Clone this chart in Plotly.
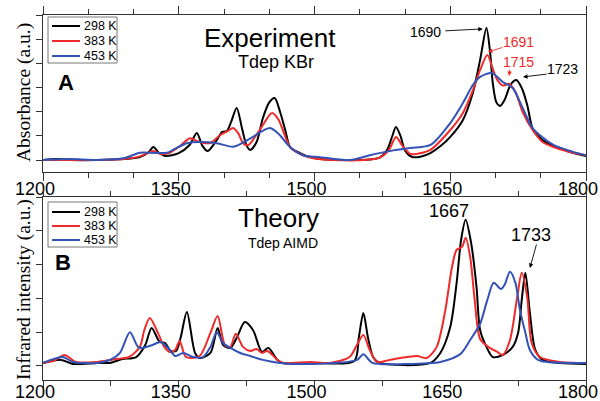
import plotly.graph_objects as go

# ---------------- data ----------------
temps = ["298 K", "383 K", "453 K"]
colors = ["#000000", "#f02a2a", "#3352b5"]

# Experiment (KBr pellet), absorbance in a.u.
exp_wn_298 = [1200, 1215, 1230, 1260, 1290, 1307, 1316, 1322, 1328, 1335, 1350, 1362, 1370, 1376, 1382,
              1392, 1398, 1403, 1408, 1414, 1420, 1425, 1429, 1436, 1443, 1450, 1456, 1462, 1468, 1473,
              1484, 1495, 1506, 1520, 1540, 1560, 1572, 1580, 1586, 1590, 1595, 1600, 1608, 1618, 1628,
              1640, 1650, 1664, 1675, 1683, 1690, 1694, 1697, 1701, 1705, 1710, 1715, 1719, 1723, 1729,
              1735, 1741, 1747, 1757, 1771, 1785, 1800]
exp_abs_298 = [0.0, 0.004, 0.0, 0.0, 0.004, 0.012, 0.03, 0.054, 0.03, 0.017, 0.029, 0.0625, 0.1125, 0.06, 0.0375,
               0.083, 0.117, 0.12, 0.16, 0.217, 0.13, 0.06, 0.042, 0.075, 0.175, 0.24, 0.258, 0.2, 0.12, 0.054,
               0.029, 0.012, 0.004, 0.0, 0.0, 0.002, 0.01, 0.04, 0.1, 0.1375, 0.1, 0.04, 0.0125, 0.015, 0.029,
               0.06, 0.096, 0.167, 0.28, 0.417, 0.55, 0.45, 0.32, 0.24, 0.225, 0.25, 0.3, 0.325, 0.333, 0.3,
               0.23, 0.13, 0.1, 0.07, 0.05, 0.03, 0.017]

exp_wn_383 = [1200, 1230, 1260, 1290, 1307, 1316, 1322, 1330, 1340, 1352, 1362, 1373, 1384, 1396, 1404,
              1410, 1416, 1421, 1427, 1435, 1443, 1453, 1460, 1465, 1473, 1487, 1500, 1520, 1555, 1572,
              1582, 1590, 1597, 1606, 1615, 1628, 1650, 1664, 1675, 1683, 1691, 1697, 1702, 1708, 1715,
              1722, 1730, 1741, 1752, 1764, 1780, 1800]
exp_abs_383 = [0.0, 0.0, 0.0, 0.004, 0.015, 0.03, 0.037, 0.025, 0.03, 0.06, 0.09, 0.075, 0.07, 0.104, 0.12,
               0.133, 0.11, 0.07, 0.0625, 0.1, 0.146, 0.196, 0.17, 0.125, 0.054, 0.02, 0.006, 0.0, 0.0, 0.01,
               0.04, 0.096, 0.06, 0.025, 0.027, 0.042, 0.125, 0.196, 0.29, 0.375, 0.4375, 0.38, 0.333, 0.31, 0.317,
               0.283, 0.2, 0.125, 0.075, 0.054, 0.035, 0.02]

exp_wn_453 = [1200, 1230, 1260, 1290, 1307, 1320, 1337, 1345, 1359, 1373, 1392, 1410, 1420, 1432, 1442,
              1451, 1460, 1473, 1487, 1506, 1539, 1561, 1583, 1606, 1628, 1650, 1664, 1675, 1683, 1696,
              1708, 1719, 1730, 1741, 1764, 1785, 1800]
exp_abs_453 = [0.0, 0.004, 0.0, 0.008, 0.03, 0.03, 0.03, 0.045, 0.07, 0.075, 0.07, 0.055, 0.07, 0.096, 0.12,
               0.133, 0.11, 0.054, 0.02, 0.012, 0.0, 0.02, 0.037, 0.05, 0.0625, 0.154, 0.2375, 0.3125, 0.346, 0.3625,
               0.325, 0.3, 0.217, 0.133, 0.0625, 0.035, 0.02]

# Theory (temperature-dependent AIMD), infrared intensity in a.u.
th_wn_298 = [1200, 1220, 1233, 1260, 1274, 1288, 1303, 1313, 1320, 1329, 1335, 1341, 1347, 1352, 1359,
             1368, 1373, 1385, 1393, 1399, 1407, 1414, 1423, 1432, 1442, 1449, 1459, 1465, 1500, 1544,
             1549, 1554, 1559, 1565, 1572, 1628, 1639, 1650, 1657, 1662, 1667, 1673, 1679, 1683, 1690,
             1697, 1708, 1719, 1725, 1729, 1733, 1738, 1744, 1752, 1771, 1800]
th_int_298 = [0.018, 0.036, 0.012, 0.018, 0.018, 0.041, 0.053, 0.124, 0.225, 0.142, 0.136, 0.089, 0.089, 0.166, 0.32,
              0.077, 0.047, 0.077, 0.225, 0.124, 0.107, 0.166, 0.26, 0.213, 0.083, 0.107, 0.036, 0.018, 0.018, 0.03,
              0.17, 0.314, 0.17, 0.05, 0.018, 0.018, 0.077, 0.231, 0.49, 0.747, 0.865, 0.73, 0.468, 0.213, 0.113,
              0.053, 0.065, 0.113, 0.196, 0.391, 0.551, 0.314, 0.095, 0.036, 0.018, 0.012]

th_wn_383 = [1200, 1212, 1224, 1236, 1260, 1281, 1295, 1307, 1312, 1318, 1327, 1334, 1340, 1346, 1351,
             1358, 1373, 1385, 1393, 1401, 1407, 1413, 1421, 1429, 1436, 1442, 1448, 1459, 1465, 1495,
             1517, 1539, 1548, 1554, 1561, 1569, 1583, 1613, 1624, 1635, 1644, 1652, 1657, 1663, 1667,
             1672, 1677, 1683, 1692, 1702, 1708, 1716, 1724, 1729, 1735, 1740, 1749, 1771, 1800]
th_int_383 = [0.018, 0.03, 0.065, 0.024, 0.024, 0.041, 0.053, 0.113, 0.213, 0.284, 0.196, 0.113, 0.083, 0.095, 0.148,
              0.053, 0.059, 0.196, 0.296, 0.124, 0.113, 0.19, 0.113, 0.089, 0.1, 0.077, 0.089, 0.036, 0.018, 0.024,
              0.018, 0.055, 0.136, 0.183, 0.095, 0.024, 0.036, 0.059, 0.047, 0.113, 0.314, 0.587, 0.687, 0.705, 0.759,
              0.646, 0.391, 0.16, 0.113, 0.083, 0.065, 0.154, 0.409, 0.551, 0.409, 0.136, 0.053, 0.024, 0.018]

th_wn_453 = [1200, 1222, 1233, 1260, 1274, 1285, 1296, 1305, 1310, 1321, 1330, 1340, 1346, 1355, 1366,
             1377, 1385, 1392, 1399, 1407, 1418, 1429, 1443, 1462, 1500, 1547, 1554, 1564, 1600, 1639,
             1661, 1672, 1683, 1691, 1698, 1706, 1710, 1716, 1722, 1727, 1733, 1738, 1747, 1757, 1800]
th_int_453 = [0.018, 0.053, 0.024, 0.018, 0.036, 0.077, 0.2, 0.113, 0.107, 0.124, 0.142, 0.095, 0.059, 0.077, 0.053,
              0.053, 0.113, 0.2, 0.136, 0.107, 0.077, 0.059, 0.036, 0.018, 0.012, 0.036, 0.07, 0.018, 0.012, 0.024,
              0.07, 0.154, 0.25, 0.391, 0.492, 0.456, 0.48, 0.557, 0.492, 0.332, 0.196, 0.095, 0.036, 0.024, 0.018]

x_ticks = [1200, 1350, 1500, 1650, 1800]

# ---------------- figure ----------------
SANS = "Liberation Sans, Arial, sans-serif"
SERIF = "Times New Roman, Liberation Serif, DejaVu Serif, serif"
L, R, T, B = 43, 14, 15, 21          # margins in px
W, H = 600, 401
PW, PH = W - L - R, H - T - B


def px(x):
    return (x - L) / PW


def py(y):
    return (H - B - y) / PH


fig = go.Figure()
exp_sets = [(exp_wn_298, exp_abs_298), (exp_wn_383, exp_abs_383), (exp_wn_453, exp_abs_453)]
th_sets = [(th_wn_298, th_int_298), (th_wn_383, th_int_383), (th_wn_453, th_int_453)]
for (wx, wy), name, c in zip(exp_sets, temps, colors):
    fig.add_trace(go.Scatter(x=wx, y=wy, name=name, mode="lines",
                             line=dict(color=c, width=2, shape="spline", smoothing=0.8),
                             xaxis="x", yaxis="y", showlegend=False))
for (wx, wy), name, c in zip(th_sets, temps, colors):
    fig.add_trace(go.Scatter(x=wx, y=wy, name=name, mode="lines",
                             line=dict(color=c, width=2, shape="spline", smoothing=0.8),
                             xaxis="x2", yaxis="y2", showlegend=False))

axis_line = dict(showline=True, linecolor="#333", linewidth=1.2, ticks="outside",
                 tickcolor="#333", tickwidth=1.2, automargin=False, showgrid=False, zeroline=False)

fig.update_layout(
    width=W, height=H,
    margin=dict(l=L, r=R, t=T, b=B),
    paper_bgcolor="white", plot_bgcolor="white",
    font=dict(family=SANS, color="black"),
    xaxis=dict(**axis_line, domain=[0, 1], anchor="y", range=[1200, 1800], tickvals=x_ticks,
               ticklen=8, mirror="ticks", tickfont=dict(size=18), ticklabelshift=-8,
               ticklabelstandoff=-8,
               minor=dict(dtick=50, tick0=1200, ticks="outside", ticklen=5, tickcolor="#333")),
    yaxis=dict(**axis_line, domain=[py(172), py(15)], anchor="x", range=[-0.05, 0.604],
               tick0=0, dtick=0.1, ticklen=6, mirror=True, showticklabels=False),
    xaxis2=dict(**axis_line, domain=[0, 1], anchor="y2", range=[1200, 1800], tickvals=x_ticks,
                ticklen=7, mirror="ticks", tickfont=dict(size=18), ticklabelshift=-8,
                ticklabelstandoff=-12,
                minor=dict(dtick=75, tick0=1200, ticks="outside", ticklen=5, tickcolor="#333")),
    yaxis2=dict(**axis_line, domain=[0, py(197)], anchor="x2", range=[-0.083, 1.0],
                tick0=0, dtick=0.2, ticklen=6, mirror=True, showticklabels=False),
)

shapes = []
ann = []
C = dict(xanchor="center", yanchor="middle", showarrow=False)

# legends (one per panel)
for box_top, box_bot, rows in [(17, 63, [26, 41, 56]), (202, 247, [212, 226, 240])]:
    shapes.append(dict(type="rect", xref="paper", yref="paper", x0=px(48), x1=px(117),
                       y0=py(box_bot), y1=py(box_top), line=dict(color="#777", width=1),
                       fillcolor="white", layer="above"))
    for yy, name, c in zip(rows, temps, colors):
        shapes.append(dict(type="line", xref="paper", yref="paper", x0=px(52), x1=px(80),
                           y0=py(yy), y1=py(yy), line=dict(color=c, width=2), layer="above"))
        ann.append(dict(xref="paper", yref="paper", x=px(82), y=py(yy), text=name, showarrow=False,
                        xanchor="left", yanchor="middle", font=dict(size=12.5, color="black")))

# panel letters and titles
ann += [
    dict(**C, xref="paper", yref="paper", x=px(66), y=py(82), text="<b>A</b>", font=dict(size=22)),
    dict(**C, xref="paper", yref="paper", x=px(63), y=py(262), text="<b>B</b>", font=dict(size=22)),
    dict(**C, xref="paper", yref="paper", x=px(270), y=py(38), text="Experiment", font=dict(size=26)),
    dict(**C, xref="paper", yref="paper", x=px(276), y=py(62), text="Tdep KBr", font=dict(size=18)),
    dict(**C, xref="paper", yref="paper", x=px(278), y=py(218), text="Theory", font=dict(size=26)),
    dict(**C, xref="paper", yref="paper", x=px(283), y=py(243), text="Tdep AIMD", font=dict(size=14)),
    dict(**C, xref="paper", yref="paper", x=px(24), y=py(93), text="Absorbance (a.u.)",
         textangle=-90, font=dict(family=SERIF, size=19.5)),
    dict(**C, xref="paper", yref="paper", x=px(24), y=py(290), text="Infrared intensity (a.u.)",
         textangle=-90, font=dict(family=SERIF, size=19.5)),
]

# peak labels
ann += [
    dict(**C, xref="x", yref="y", x=1623, y=0.533, text="1690", font=dict(size=14)),
    dict(**C, xref="x", yref="y", x=1725, y=0.492, text="1691", font=dict(size=14, color=colors[1])),
    dict(**C, xref="x", yref="y", x=1725, y=0.408, text="1715", font=dict(size=14, color=colors[1])),
    dict(**C, xref="x", yref="y", x=1773.5, y=0.379, text="1723", font=dict(size=14)),
    dict(**C, xref="x2", yref="y2", x=1649, y=0.918, text="1667", font=dict(size=18)),
    dict(**C, xref="x2", yref="y2", x=1739, y=0.777, text="1733", font=dict(size=18)),
]

# arrows pointing at peaks
arrow = dict(showarrow=True, text="", arrowhead=2, arrowsize=1, arrowwidth=0.9, standoff=0)
ann += [
    dict(**arrow, xref="x", yref="y", x=1686, y=0.546, ax=-39, ay=2, arrowcolor="black"),
    dict(**arrow, xref="x", yref="y", x=1691.7, y=0.45, ax=16, ay=-5, arrowcolor=colors[1]),
    dict(**arrow, xref="x", yref="y", x=1715, y=0.35, ax=1, ay=-8, arrowcolor=colors[1]),
    dict(**arrow, xref="x", yref="y", x=1730.4, y=0.346, ax=25, ay=-3, arrowcolor="black"),
    dict(**arrow, xref="x2", yref="y2", x=1738, y=0.58, ax=7, ay=-25, arrowcolor="black"),
]

fig.update_layout(shapes=shapes, annotations=ann)
fig.write_html("out.html")
